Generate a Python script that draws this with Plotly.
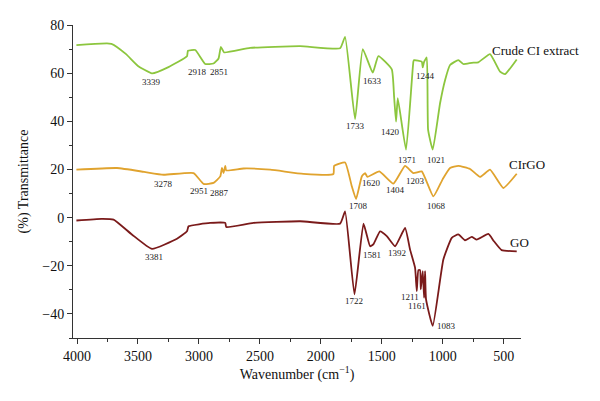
import plotly.graph_objects as go

# Crude CI extract (green)
crude_wn = [4005, 3718, 3600, 3500, 3385, 3250, 3098, 3090, 3030, 2948, 2880, 2839, 2820, 2793, 2580, 2170,
            1842, 1801, 1719, 1656, 1574, 1528, 1418, 1399, 1383, 1369, 1301, 1241, 1235, 1172, 1164, 1153,
            1131, 1120, 1082, 1022, 981, 940, 872, 831, 762, 708, 612, 530, 489, 393]
crude_t = [71.6, 72.2, 68.0, 63.0, 59.9, 62.5, 67.0, 69.3, 69.6, 63.8, 64.0, 66.1, 70.9, 68.6, 70.5, 71.2,
           70.3, 75.1, 40.9, 70.0, 60.2, 67.1, 61.6, 50.2, 39.9, 49.6, 28.2, 64.7, 65.4, 64.8, 62.4, 64.7,
           66.5, 36.4, 28.2, 47.5, 57.1, 63.4, 65.4, 63.8, 64.3, 64.5, 67.9, 60.6, 59.6, 65.7]

# CIrGO (orange)
cirgo_wn = [4005, 3672, 3450, 3290, 3044, 2962, 2880, 2825, 2811, 2798, 2784, 2776, 2634, 2415, 2143, 1897,
            1891, 1801, 1746, 1711, 1664, 1637, 1618, 1520, 1405, 1309, 1241, 1172, 1077, 1000, 940, 872,
            776, 694, 612, 503, 393]
cirgo_t = [19.9, 20.6, 19.0, 17.8, 18.5, 14.0, 14.4, 17.1, 20.6, 18.5, 21.5, 19.6, 20.4, 19.9, 18.2, 18.1,
           21.5, 22.9, 13.0, 7.7, 17.1, 18.5, 16.9, 19.2, 14.1, 21.5, 18.5, 19.2, 8.8, 16.0, 20.6, 21.5,
           20.2, 16.9, 19.9, 12.3, 18.2]

# GO (dark red)
go_wn = [4005, 3800, 3700, 3550, 3385, 3180, 3098, 3085, 2907, 2784, 2776, 2553, 2170, 1842, 1801, 1724,
         1650, 1596, 1568, 1514, 1459, 1391, 1309, 1268, 1227, 1213, 1200, 1186, 1180, 1164, 1153, 1145,
         1137, 1082, 995, 926, 872, 817, 762, 721, 626, 580, 517, 393]
go_t = [-1.2, -0.5, -0.8, -7.0, -13.0, -8.8, -5.7, -3.6, -2.2, -2.2, -3.9, -2.2, -1.5, -2.5, 2.6, -31.9,
        -2.5, -11.9, -11.0, -5.7, -7.7, -11.9, -4.3, -13.3, -20.8, -30.5, -21.8, -21.8, -29.8, -22.2, -33.3, -22.2,
        -34.0, -45.0, -17.4, -8.4, -7.0, -9.4, -8.0, -9.1, -6.8, -9.8, -13.5, -14.0]

# peak labels: (text, wavenumber position, transmittance position)
crude_labels = [("3339", 3385, 56.4), ("2918", 3011, 60.6), ("2851", 2839, 60.6), ("1733", 1719, 38.2),
                ("1633", 1577, 56.9), ("1420", 1432, 35.7), ("1371", 1295, 24.0), ("1021", 1057, 24.0),
                ("1244", 1145, 58.8)]
cirgo_labels = [("3278", 3290, 14.1), ("2951", 3003, 10.9), ("2887", 2831, 10.2), ("1708", 1692, 4.7),
                ("1620", 1582, 14.4), ("1404", 1391, 11.3), ("1203", 1227, 15.4), ("1068", 1049, 4.7)]
go_labels = [("3381", 3372, -16.3), ("1722", 1724, -34.7), ("1581", 1577, -15.7), ("1392", 1377, -14.9),
             ("1211", 1268, -32.8), ("1161", 1213, -36.7), ("1083", 967, -45.0)]

series_names = ["Crude CI extract", "CIrGO", "GO"]
series_label_pos = [(612, 69.3), (475, 21.9), (467, -10.5)]
colors = ["#8CC63E", "#E0A32E", "#7A1A1A"]

x_ticks = [4000, 3500, 3000, 2500, 2000, 1500, 1000, 500]
y_ticks = [-40, -20, 0, 20, 40, 60, 80]

FONT = "Liberation Serif"

fig = go.Figure()
for wn, t, name, c in zip([crude_wn, cirgo_wn, go_wn], [crude_t, cirgo_t, go_t], series_names, colors):
    fig.add_trace(go.Scatter(x=wn, y=t, mode="lines", name=name,
                             line=dict(color=c, width=1.8, shape="spline", smoothing=0.4)))

annotations = []
for labels in [crude_labels, cirgo_labels, go_labels]:
    for txt, x, y in labels:
        annotations.append(dict(x=x, y=y, text=txt, showarrow=False, xref="x", yref="y",
                                font=dict(family=FONT, size=9, color="#222")))
for name, (x, y) in zip(series_names, series_label_pos):
    annotations.append(dict(x=x, y=y, text=name, showarrow=False, xref="x", yref="y",
                            xanchor="left", font=dict(family=FONT, size=13, color="#111")))

fig.update_layout(
    width=600, height=401,
    margin=dict(l=73, r=79, t=25, b=63),
    paper_bgcolor="white", plot_bgcolor="white",
    showlegend=False,
    font=dict(family=FONT, size=14, color="#111"),
    annotations=annotations,
)
fig.update_xaxes(range=[4033, 358], tickvals=x_ticks, ticks="outside", ticklen=5, tickwidth=1,
                 tickcolor="#333", showline=True, linecolor="#333", linewidth=1, showgrid=False,
                 zeroline=False, minor=dict(dtick=250, ticks="outside", ticklen=3, tickcolor="#333"),
                 title=dict(text="Wavenumber (cm<sup>−1</sup>)", font=dict(family=FONT, size=14), standoff=6),
                 tickfont=dict(family=FONT, size=14))
fig.update_yaxes(range=[-50, 80], tickvals=y_ticks, ticks="outside", ticklen=5, tickwidth=1,
                 tickcolor="#333", showline=True, linecolor="#333", linewidth=1, showgrid=False,
                 zeroline=False, minor=dict(dtick=10, ticks="outside", ticklen=3, tickcolor="#333"),
                 title=dict(text="(%) Transmittance", font=dict(family=FONT, size=14), standoff=10),
                 tickfont=dict(family=FONT, size=14))

fig.write_html("out.html")
